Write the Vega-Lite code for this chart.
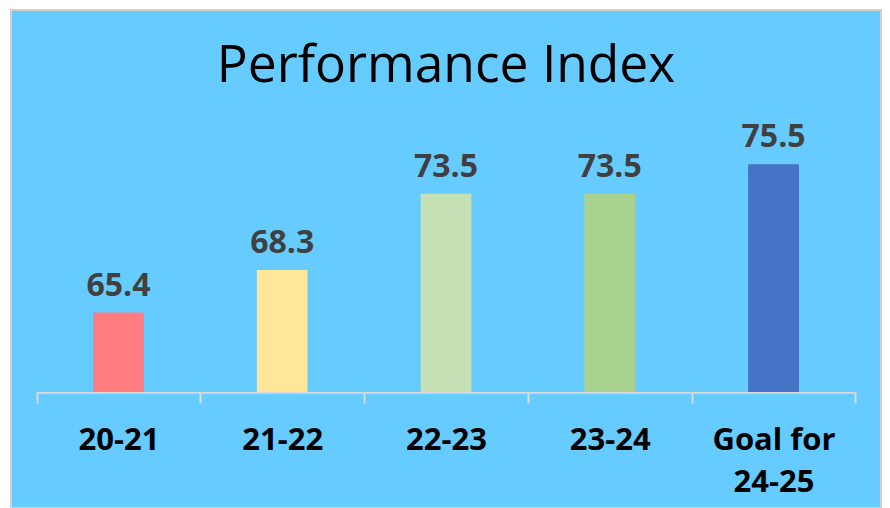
{
  "$schema": "https://vega.github.io/schema/vega-lite/v6.json",
  "width": 870,
  "height": 498,
  "autosize": {"type": "none"},
  "padding": {"left": 11, "top": 10, "right": 9, "bottom": 0},
  "background": "white",
  "config": {
    "view": {"fill": "#66CCFF", "stroke": "#D0D0D0", "strokeWidth": 2}
  },
  "title": {
    "text": "Performance Index",
    "font": "Open Sans",
    "fontSize": 51.5,
    "fontWeight": "normal",
    "color": "#000000",
    "anchor": "middle",
    "offset": 0,
    "baseline": "alphabetic",
    "dy": 123
  },
  "data": {
    "values": [
      {"period": "20-21", "value": 65.4, "base": 60},
      {"period": "21-22", "value": 68.3, "base": 60},
      {"period": "22-23", "value": 73.5, "base": 60},
      {"period": "23-24", "value": 73.5, "base": 60},
      {"period": "Goal for 24-25", "value": 75.5, "base": 60}
    ]
  },
  "encoding": {
    "x": {
      "field": "period",
      "type": "nominal",
      "sort": null,
      "scale": {"paddingInner": 0, "paddingOuter": 0.156},
      "axis": {
        "title": null,
        "orient": "bottom",
        "offset": -116,
        "domain": false,
        "ticks": true,
        "tickBand": "extent",
        "tickColor": "#D9D9D9",
        "tickWidth": 2,
        "tickSize": 11,
        "labelAngle": 0,
        "labelFont": "Open Sans",
        "labelFontSize": 31,
        "labelFontWeight": "bold",
        "labelColor": "#000000",
        "labelPadding": 22,
        "labelLineHeight": 42,
        "labelExpr": "datum.label == 'Goal for 24-25' ? ['Goal for', '24-25'] : datum.label",
        "grid": false
      }
    }
  },
  "layer": [
    {
      "mark": {"type": "bar", "width": {"band": 1}, "color": "#D9D9D9"},
      "encoding": {
        "y": {"datum": 60, "type": "quantitative", "scale": {"domain": [52.1, 86], "zero": false, "nice": false}, "axis": null},
        "y2": {"datum": 59.87}
      }
    },
    {
      "mark": {"type": "bar", "width": {"band": 0.31}},
      "encoding": {
        "y": {"field": "value", "type": "quantitative", "scale": {"domain": [52.1, 86], "zero": false, "nice": false}, "axis": null},
        "y2": {"field": "base"},
        "color": {
          "field": "period",
          "type": "nominal",
          "sort": null,
          "scale": {
            "domain": ["20-21", "21-22", "22-23", "23-24", "Goal for 24-25"],
            "range": ["#FF7C80", "#FFE699", "#C5E0B4", "#A9D18E", "#4472C4"]
          },
          "legend": null
        }
      }
    },
    {
      "mark": {"type": "text", "font": "Open Sans", "fontSize": 32, "fontWeight": "bold", "color": "#404040", "baseline": "alphabetic", "dy": -17},
      "encoding": {
        "y": {"field": "value", "type": "quantitative", "scale": {"domain": [52.1, 86], "zero": false, "nice": false}, "axis": null},
        "text": {"field": "value", "type": "quantitative", "format": ".1f"}
      }
    }
  ]
}
